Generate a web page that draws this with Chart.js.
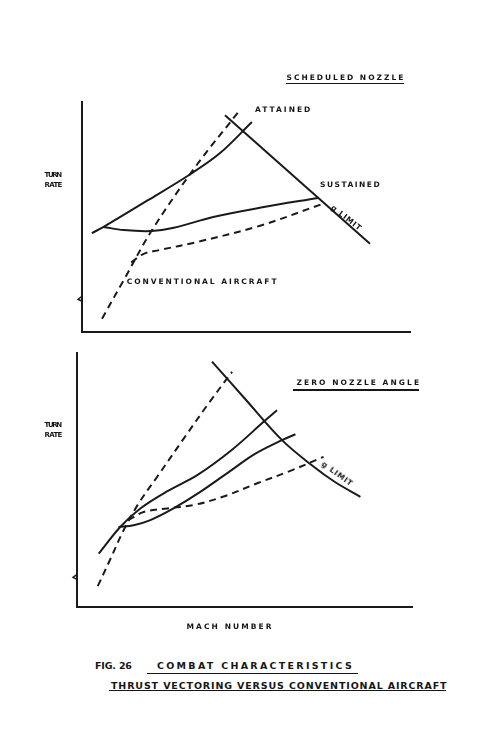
<!DOCTYPE html>
<html>
<head>
<meta charset="utf-8">
<script src="https://cdn.jsdelivr.net/npm/chart.js@4.4.1/dist/chart.umd.min.js"></script>
<style>
  html, body { margin: 0; padding: 0; background: #fff; }
  #page { position: relative; width: 501px; height: 752px; overflow: hidden; background: #fff; }
  canvas { position: absolute; left: 0; }
  .lbl { position: absolute; white-space: nowrap; font-family: "DejaVu Sans"; font-weight: bold;
         color: #161616; line-height: 1; }
  .ul { position: absolute; height: 1.5px; background: #161616; }
</style>
</head>
<body>
<div id="page">
  <canvas id="topChart" width="501" height="345" style="top:0"></canvas>
  <canvas id="bottomChart" width="501" height="300" style="top:345px"></canvas>
</div>
<script>
// scheduled nozzle (top panel), axes in arbitrary units 0-100
const topAttainedX = [3.0, 6.6, 20.0, 33.0, 42.1, 51.8];
const topAttainedY = [43.0, 45.7, 57.2, 68.6, 77.8, 91.3];
const topSustainedX = [6.6, 12.7, 21.3, 28.0, 40.0, 55.0, 72.0];
const topSustainedY = [45.7, 44.3, 43.9, 45.3, 50.0, 54.2, 58.3];
const topGLimitX = [43.6, 87.8];
const topGLimitY = [94.2, 38.4];
const topConvAttX = [6.1, 12.7, 21.3, 34.5, 47.7];
const topConvAttY = [5.8, 22.5, 44.2, 71.7, 95.7];
const topConvSusX = [15.0, 18.8, 23.5, 35.0, 54.3, 73.5];
const topConvSusY = [30.3, 34.0, 35.6, 39.1, 46.2, 55.8];

// zero nozzle angle (bottom panel)
const botAttainedX = [6.5, 12.9, 18.9, 27.0, 36.0, 46.0, 55.7, 59.7];
const botAttainedY = [21.0, 31.5, 38.8, 45.6, 52.0, 61.6, 72.9, 77.5];
const botSustainedX = [12.4, 16.9, 21.9, 28.8, 36.8, 45.8, 53.0, 60.7, 65.2];
const botSustainedY = [31.5, 32.2, 34.2, 38.8, 45.3, 53.6, 60.2, 65.4, 68.0];
const botGLimitX = [40.3, 50.0, 61.2, 70.1, 77.0, 84.6];
const botGLimitY = [96.6, 82.2, 65.7, 55.8, 49.2, 43.4];
const botConvAttX = [6.2, 9.9, 13.9, 18.4, 23.9, 31.8, 39.3, 46.3];
const botConvAttY = [8.2, 18.7, 30.2, 40.8, 51.2, 66.2, 80.2, 92.6];
const botConvSusX = [15.3, 19.9, 26.9, 35.0, 44.0, 54.0, 63.7, 73.6];
const botConvSusY = [34.2, 37.4, 38.8, 40.2, 43.6, 48.8, 53.6, 59.1];

const ink = "#1a1a1a";

function pts(xs, ys) {
  return xs.map((x, i) => ({ x: x, y: ys[i] }));
}

function line(xs, ys, dashed) {
  return {
    data: pts(xs, ys),
    borderColor: ink,
    borderWidth: 2,
    borderDash: dashed ? [7, 5] : [],
    pointRadius: 0,
    tension: 0.35,
    fill: false,
    clip: false,
  };
}

// little break mark on the y axis
const axisBreak = {
  id: "axisBreak",
  afterDraw(chart, args, opts) {
    const c = chart.ctx;
    const x = chart.chartArea.left;
    const y = chart.scales.y.getPixelForValue(opts.at);
    c.save();
    c.strokeStyle = ink;
    c.lineWidth = 1.5;
    c.beginPath();
    c.moveTo(x, y - 4);
    c.lineTo(x - 4, y - 1);
    c.lineTo(x, y + 1);
    c.stroke();
    c.restore();
  },
};

function makeChart(id, datasets, padding, breakAt) {
  const axis = {
    type: "linear",
    min: 0,
    max: 100,
    ticks: { display: false },
    grid: { display: true, color: "rgba(0,0,0,0)", drawTicks: false },
    border: { display: true, color: ink, width: 2 },
  };
  return new Chart(document.getElementById(id), {
    type: "line",
    data: { datasets: datasets },
    options: {
      responsive: false,
      animation: false,
      layout: { padding: padding },
      scales: { x: axis, y: Object.assign({}, axis) },
      plugins: {
        legend: { display: false },
        tooltip: { enabled: false },
        axisBreak: { at: breakAt },
      },
    },
    plugins: [axisBreak],
  });
}

makeChart("topChart", [
  line(topAttainedX, topAttainedY, false),
  line(topSustainedX, topSustainedY, false),
  line(topGLimitX, topGLimitY, false),
  line(topConvAttX, topConvAttY, true),
  line(topConvSusX, topConvSusY, true),
], { left: 82, top: 102, right: 91, bottom: 13 }, 13.8);

makeChart("bottomChart", [
  line(botAttainedX, botAttainedY, false),
  line(botSustainedX, botSustainedY, false),
  line(botGLimitX, botGLimitY, false),
  line(botConvAttX, botConvAttY, true),
  line(botConvSusX, botConvSusY, true),
], { left: 77, top: 8, right: 89, bottom: 38 }, 11.3);

// text, centred at (x, y) and spread to width w
const page = document.getElementById("page");
const texts = [
  { t: "SCHEDULED NOZZLE", x: 345, y: 78, w: 117, s: 7.5 },
  { t: "ATTAINED", x: 282.5, y: 110, w: 55, s: 7.5 },
  { t: "SUSTAINED", x: 350, y: 185, w: 60, s: 7.5 },
  { t: "g LIMIT", x: 346, y: 218, w: 36, s: 7.5, r: 38 },
  { t: "CONVENTIONAL AIRCRAFT", x: 201.7, y: 281.7, w: 150, s: 7.5 },
  { t: "TURN", x: 53.5, y: 175, w: 18, s: 7 },
  { t: "RATE", x: 53.5, y: 185, w: 18, s: 7 },
  { t: "ZERO NOZZLE ANGLE", x: 358, y: 383.3, w: 123, s: 7.5 },
  { t: "g LIMIT", x: 336.7, y: 474, w: 36, s: 7.5, r: 36 },
  { t: "TURN", x: 53.5, y: 425, w: 18, s: 7 },
  { t: "RATE", x: 53.5, y: 435, w: 18, s: 7 },
  { t: "MACH NUMBER", x: 229, y: 626.7, w: 85, s: 7.5 },
  { t: "FIG. 26", x: 113.5, y: 666, w: 37, s: 9.5 },
  { t: "COMBAT CHARACTERISTICS", x: 254.5, y: 666, w: 195, s: 9.5 },
  { t: "THRUST VECTORING VERSUS CONVENTIONAL AIRCRAFT", x: 279, y: 686, w: 336, s: 9.5 },
];
const underlines = [
  [286, 404, 83.5],
  [293, 419, 390],
  [147, 358, 673.3],
  [109, 446, 690.7],
];

texts.forEach(l => {
  const d = document.createElement("div");
  d.className = "lbl";
  d.textContent = l.t;
  d.style.fontSize = l.s + "px";
  page.appendChild(d);
  const w0 = d.offsetWidth;
  const ls = (l.w - w0) / (l.t.length - 1);
  d.style.letterSpacing = ls + "px";
  const w = w0 + ls * (l.t.length - 1);
  const h = d.offsetHeight;
  d.style.left = (l.x - w / 2) + "px";
  d.style.top = (l.y - h / 2) + "px";
  if (l.r) {
    d.style.transformOrigin = (w / 2) + "px 50%";
    d.style.transform = "rotate(" + l.r + "deg)";
  }
});

underlines.forEach(u => {
  const d = document.createElement("div");
  d.className = "ul";
  d.style.left = u[0] + "px";
  d.style.width = (u[1] - u[0]) + "px";
  d.style.top = (u[2] - 0.75) + "px";
  page.appendChild(d);
});
</script>
</body>
</html>
